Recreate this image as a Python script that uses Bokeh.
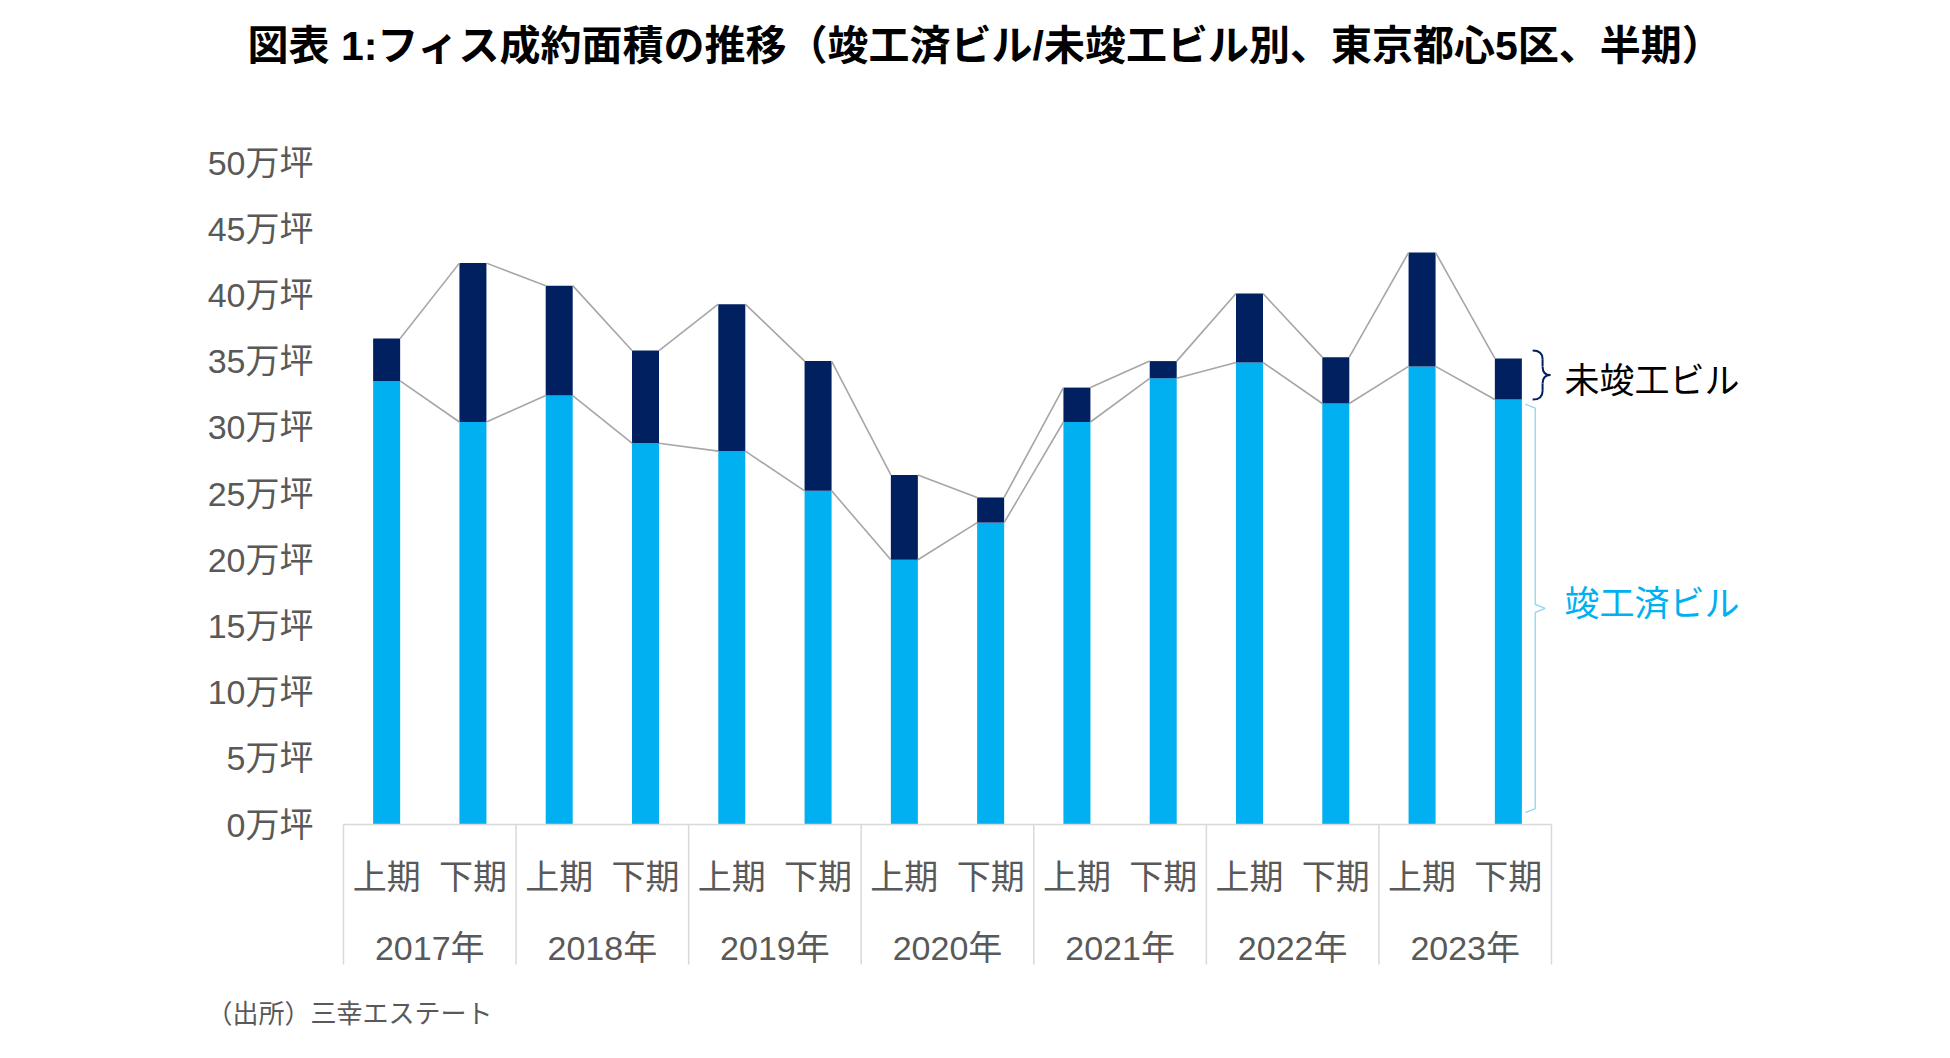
from bokeh.plotting import figure
from bokeh.models import (FactorRange, FixedTicker, PrintfTickFormatter, Range1d, Label,
                          CategoricalAxis)
from bokeh.embed import file_html
from bokeh.resources import INLINE

# ---------------- data ----------------
years = ["2017年", "2018年", "2019年", "2020年", "2021年", "2022年", "2023年"]
halves = ["上期", "下期"]
completed = [33.5, 30.4, 32.4, 28.8, 28.2, 25.2, 20.0, 22.8, 30.4, 33.7, 34.9, 31.8, 34.6, 32.1]
uncompleted = [3.2, 12.0, 8.3, 7.0, 11.1, 9.8, 6.4, 1.9, 2.6, 1.3, 5.2, 3.5, 8.6, 3.1]
y_ticks = [0, 5, 10, 15, 20, 25, 30, 35, 40, 45, 50]
tick_format = "%d万坪"
title_text = "図表 1:フィス成約面積の推移（竣工済ビル/未竣工ビル別、東京都心5区、半期）"
source_text = "（出所）三幸エステート"
label_uncompleted = "未竣工ビル"
label_completed = "竣工済ビル"

# ---------------- layout ----------------
AX_L, AX_R = 351, 1559      # page px of first / last category boundary
AX_Y0 = 832                 # page px of value 0
PXU = 13.24                 # px per 1万坪
n = len(completed)
SLOT = (AX_R - AX_L) / n
LEFT_PAD = AX_L - 8         # canvas px left of the first boundary
W = 2 * LEFT_PAD + (AX_R - AX_L)
H = 1038

def dx(px):   # page px -> synthetic x
    return (px - AX_L) / SLOT

def dy(py):   # page px -> data y
    return (AX_Y0 - py) / PXU

FONT = "'Liberation Sans', 'Noto Sans CJK JP', sans-serif"
LIGHT = "#00B0F0"
DARK = "#002060"
GREY_TXT = "#595959"
AX_GREY = "#D9D9D9"

factors = [(y, h) for y in years for h in halves]
totals = [c + u for c, u in zip(completed, uncompleted)]

p = figure(
    width=W, height=H, output_backend="svg", toolbar_location=None,
    x_range=FactorRange(factors=factors, group_padding=0, factor_padding=0,
                        subgroup_padding=0, range_padding=LEFT_PAD / SLOT,
                        range_padding_units="absolute"),
    y_range=Range1d(dy(8 + H), dy(8)),
    min_border=0,
)
p.outline_line_color = None
p.xgrid.visible = False
p.ygrid.visible = False
p.background_fill_color = "white"
p.border_fill_color = "white"

bw = 0.313
p.vbar(x=factors, bottom=0, top=completed, width=bw, fill_color=LIGHT, line_color=None)
p.vbar(x=factors, bottom=completed, top=totals, width=bw, fill_color=DARK, line_color=None)

# series connecting lines
x0 = [i + 0.5 + bw / 2 for i in range(n - 1)]
x1 = [i + 1.5 - bw / 2 for i in range(n - 1)]
for series in (completed, totals):
    p.segment(x0=x0, y0=series[:-1], x1=x1, y1=series[1:], line_color="#A6A6A6", line_width=1.6)

# baseline and group separators
y_sep_end = dy(972)
seps = [2 * k for k in range(len(years) + 1)]
p.segment(x0=[0], y0=[0], x1=[n], y1=[0], line_color=AX_GREY, line_width=1.5)
p.segment(x0=seps, y0=[0] * len(seps), x1=seps, y1=[y_sep_end] * len(seps),
          line_color=AX_GREY, line_width=1.5)

# y axis
ya = p.yaxis[0]
ya.fixed_location = 0
ya.ticker = FixedTicker(ticks=y_ticks)
ya.formatter = PrintfTickFormatter(format=tick_format)
ya.axis_line_color = None
ya.major_tick_line_color = None
ya.minor_tick_line_color = None
ya.major_tick_in = 0
ya.major_tick_out = 0
ya.major_label_standoff = 30
ya.major_label_text_font = FONT
ya.major_label_text_font_size = "34px"
ya.major_label_text_color = GREY_TXT

def style_xaxis(ax, standoff, show_sub, show_group):
    ax.fixed_location = 0
    ax.axis_line_color = None
    ax.major_tick_line_color = None
    ax.minor_tick_line_color = None
    ax.major_tick_in = 0
    ax.major_tick_out = 0
    ax.separator_line_color = None
    ax.major_label_standoff = standoff
    ax.major_label_text_font = FONT
    ax.major_label_text_font_size = "34px"
    ax.major_label_text_color = GREY_TXT if show_sub else None
    ax.group_text_font = FONT
    ax.group_text_font_size = "34px"
    ax.group_text_font_style = "normal"
    ax.group_text_color = GREY_TXT if show_group else None

style_xaxis(p.xaxis[0], 33, True, False)
xa2 = CategoricalAxis()
p.add_layout(xa2, "below")
style_xaxis(xa2, 104, False, True)

# brace for uncompleted (last bar)
last = n - 1
bx_hook = last + 0.5 + bw / 2 + 0.125
bx_vert = bx_hook + 0.115
bx_tip = bx_hook + 0.205
b_top = totals[-1] + 0.6
b_bot = completed[-1]
b_mid = (b_top + b_bot) / 2
r = 0.65
p.quadratic(x0=[bx_hook, bx_vert, bx_tip, bx_vert],
            y0=[b_top, b_mid + r, b_mid, b_bot + r],
            x1=[bx_vert, bx_tip, bx_vert, bx_hook],
            y1=[b_top - r, b_mid, b_mid - r, b_bot],
            cx=[bx_vert, bx_vert, bx_vert, bx_vert],
            cy=[b_top, b_mid, b_mid, b_bot],
            line_color=DARK, line_width=2)
p.segment(x0=[bx_vert, bx_vert], y0=[b_top - r, b_mid - r],
          x1=[bx_vert, bx_vert], y1=[b_mid + r, b_bot + r],
          line_color=DARK, line_width=2)

# bracket for completed
cx_hook = last + 0.5 + bw / 2 + 0.04
cx_vert = cx_hook + 0.115
cx_tip = cx_hook + 0.23
c_top = completed[-1] - 0.35
c_bot = 0.9
c_mid = (c_top + c_bot) / 2
rr = 0.3
p.line(x=[cx_hook, cx_vert, cx_vert, cx_tip, cx_vert, cx_vert, cx_hook],
       y=[c_top, c_top - rr, c_mid + rr, c_mid, c_mid - rr, c_bot + rr, c_bot],
       line_color="#8ED6F5", line_width=1.3)

p.add_layout(Label(x=dx(1572), y=b_mid - 0.4, text=label_uncompleted, text_font=FONT,
                   text_font_size="35px", text_color="#000000",
                   text_baseline="middle", text_align="left"))
p.add_layout(Label(x=dx(1572), y=c_mid + 0.4, text=label_completed, text_font=FONT,
                   text_font_size="35px", text_color=LIGHT,
                   text_baseline="middle", text_align="left"))

# title and source
p.add_layout(Label(x=dx(255), y=dy(53), text=title_text, text_font=FONT,
                   text_font_size="41px", text_font_style="bold", text_color="#000000",
                   text_baseline="middle", text_align="left"))
p.add_layout(Label(x=dx(214), y=dy(1021), text=source_text, text_font=FONT,
                   text_font_size="26px", text_color=GREY_TXT,
                   text_baseline="middle", text_align="left"))

open("out.html", "w").write(file_html(p, INLINE))
